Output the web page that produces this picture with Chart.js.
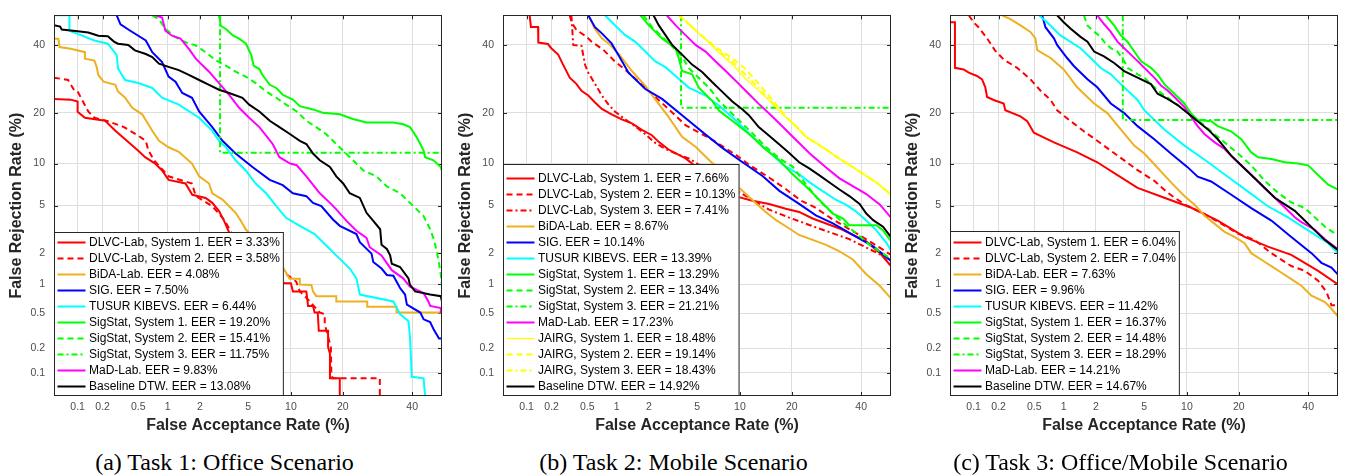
<!DOCTYPE html>
<html>
<head>
<meta charset="utf-8">
<script src="https://cdn.jsdelivr.net/npm/chart.js"></script>
<style>
  body { margin: 0; background: #fff; width: 1346px; height: 476px; position: relative; overflow: hidden; }
  .panel { position: absolute; top: 0; width: 449px; height: 476px; }
  .panel canvas { position: absolute; left: 0; top: 0; }
  .caption { position: absolute; left: 0; top: 448px; width: 449px; text-align: center;
             font: 24px 'Liberation Serif', 'Times New Roman', serif; line-height: 28px; color: #000; }
</style>
</head>
<body>
<div class="panel" style="left:0px"><canvas id="chartA" width="449" height="440"></canvas><div class="caption">(a) Task 1: Office Scenario</div></div>
<div class="panel" style="left:449px"><canvas id="chartB" width="449" height="440"></canvas><div class="caption">(b) Task 2: Mobile Scenario</div></div>
<div class="panel" style="left:896px"><canvas id="chartC" width="449" height="440"></canvas><div class="caption">(c) Task 3: Office/Mobile Scenario</div></div>
<script>
// axis ticks (percent)
const tickValues = [0.1, 0.2, 0.5, 1, 2, 5, 10, 20, 40];

// ---- Task 1: Office ----
const A_DLVC1_FAR = [0.05, 0.082, 0.10, 0.10, 0.123, 0.214, 0.28, 0.36, 0.50, 0.59, 0.75, 0.88, 1.02, 1.48, 1.71, 2.25, 2.57, 2.93, 3.23, 3.55, 9.07, 10.0, 10.3, 12.5, 12.8, 13.7, 14.0, 14.6, 14.8, 16.7, 16.7, 17.1, 17.1, 19.3, 19.3];
const A_DLVC1_FRR = [23.5, 23.3, 22.8, 20.2, 18.8, 18.1, 15.9, 14.2, 12.1, 11.0, 10.0, 9.0, 7.74, 7.3, 6.04, 5.72, 5.25, 4.53, 3.78, 3.03, 1.03, 1.03, 0.85, 0.85, 0.60, 0.60, 0.51, 0.51, 0.32, 0.32, 0.206, 0.172, 0.085, 0.085, 0.05];
const A_DLVC2_FAR = [0.05, 0.076, 0.091, 0.10, 0.135, 0.16, 0.23, 0.35, 0.50, 0.60, 0.64, 0.73, 1.02, 1.20, 1.70, 1.84, 2.57, 3.23, 3.69, 10.8, 11.4, 12.5, 13.1, 15.0, 16.0, 16.0, 17.3, 17.4, 17.7, 29.9, 29.9];
const A_DLVC2_FRR = [29.5, 28.8, 25.8, 25.5, 20.3, 18.8, 18.0, 16.7, 14.9, 13.9, 12.1, 10.5, 8.2, 7.9, 7.3, 5.9, 4.95, 3.87, 3.03, 1.07, 0.85, 0.73, 0.67, 0.51, 0.49, 0.38, 0.206, 0.098, 0.085, 0.085, 0.05];
const A_BIDA_FAR = [0.05, 0.057, 0.059, 0.082, 0.123, 0.123, 0.16, 0.17, 0.178, 0.205, 0.28, 0.30, 0.36, 0.43, 0.55, 0.70, 0.82, 1.02, 1.28, 1.70, 1.97, 2.41, 2.57, 3.13, 3.55, 4.0, 4.4, 4.8, 8.84, 9.8, 11.4, 11.4, 13.4, 13.7, 14.3, 18.5, 18.5, 26.3, 26.3, 35.0, 35.0, 50];
const A_BIDA_FRR = [42.0, 42.0, 39.2, 38.6, 37.5, 35.4, 34.8, 32.8, 30.3, 28.3, 27.4, 25.5, 23.8, 21.2, 19.6, 15.9, 13.9, 12.7, 11.9, 10.0, 8.2, 7.3, 6.2, 5.56, 4.95, 4.39, 3.78, 3.22, 1.48, 1.14, 1.14, 1.0, 0.99, 0.85, 0.76, 0.76, 0.67, 0.67, 0.59, 0.59, 0.51, 0.51];
const A_SIG_FAR = [0.29, 0.32, 0.41, 0.60, 0.70, 0.88, 1.02, 1.19, 1.38, 1.70, 1.97, 2.57, 3.13, 4.0, 5.4, 7.2, 8.84, 10.3, 12.5, 13.7, 15.3, 17.7, 19.3, 23.4, 24.3, 27.5, 28.0, 30.4, 32.0, 34.0, 36.1, 37.7, 38.3, 42.7, 43.8, 46.0, 47.2, 49.0, 50];
const A_SIG_FRR = [50, 46.9, 44.7, 41.4, 37.5, 34.3, 29.8, 28.3, 25.1, 23.8, 20.3, 16.7, 13.9, 11.6, 9.5, 7.74, 7.1, 6.2, 5.9, 5.25, 4.95, 3.9, 3.44, 2.93, 2.49, 1.97, 1.65, 1.43, 1.24, 1.22, 0.92, 0.79, 0.62, 0.51, 0.43, 0.40, 0.33, 0.26, 0.26];
const A_TUSUR_FAR = [0.05, 0.079, 0.079, 0.10, 0.16, 0.23, 0.29, 0.30, 0.36, 0.50, 0.70, 0.88, 1.28, 1.97, 2.57, 2.93, 3.34, 4.0, 4.8, 5.7, 6.8, 8.0, 9.3, 11.4, 14.0, 16.3, 18.5, 21.7, 23.4, 24.3, 34.0, 36.1, 38.8, 39.3, 39.9, 43.8, 44.3];
const A_TUSUR_FRR = [50, 50, 44.7, 43.6, 41.4, 40.3, 36.5, 32.3, 28.8, 27.9, 26.5, 23.8, 22.0, 18.8, 15.9, 13.9, 12.7, 10.5, 9.0, 7.3, 6.2, 4.95, 4.0, 3.44, 2.93, 2.33, 1.9, 1.43, 1.15, 0.79, 0.67, 0.49, 0.41, 0.27, 0.089, 0.085, 0.05];
const A_SS1_FAR = [2.93, 3.03, 3.34, 3.83, 4.27, 4.82, 5.3, 5.5, 6.07, 6.4, 7.2, 8.0, 8.84, 10.3, 11.4, 13.7, 15.6, 19.3, 22.5, 26.1, 34.0, 37.1, 39.3, 41.5, 42.7, 43.8, 44.3, 47.1, 49.6, 50];
const A_SS1_FRR = [50, 46.4, 45.3, 43.0, 42.0, 40.3, 36.5, 33.2, 32.1, 30.3, 27.4, 26.5, 24.6, 23.3, 21.6, 20.8, 20.0, 19.6, 18.5, 17.7, 17.7, 17.3, 16.7, 14.6, 13.3, 12.1, 11.0, 10.5, 9.5, 8.9];
const A_SS2_FAR = [0.70, 0.82, 0.95, 1.19, 1.48, 1.84, 2.25, 2.75, 3.34, 4.0, 4.8, 5.7, 6.8, 8.0, 9.3, 10.9, 12.5, 14.3, 16.3, 18.5, 20.1, 22.5, 25.2, 28.9, 32.0, 36.1, 39.3, 41.5, 43.8, 46.0, 47.2, 48.3, 48.9, 49.6, 50];
const A_SS2_FRR = [50, 48.6, 45.3, 42.5, 40.8, 39.7, 37.5, 34.9, 33.2, 31.3, 29.8, 27.9, 25.5, 23.8, 22.0, 20.3, 18.1, 16.7, 15.2, 13.3, 12.1, 10.5, 9.0, 8.2, 6.96, 6.2, 5.25, 4.67, 4.14, 3.22, 2.66, 2.03, 1.65, 1.24, 0.95];
const A_SS3_FAR = [2.99, 2.99, 50];
const A_SS3_FRR = [50, 11.75, 11.75];
const A_MAD_FAR = [0.75, 0.88, 0.95, 1.10, 1.33, 1.59, 1.84, 2.41, 2.93, 3.55, 4.27, 5.1, 6.07, 7.55, 8.4, 9.9, 10.9, 12.5, 15.0, 17.1, 18.5, 20.9, 23.4, 26.1, 27.0, 30.4, 33.5, 37.1, 39.3, 43.8, 45.4, 46.0, 49.6, 49.6, 50];
const A_MAD_FRR = [50, 49.2, 44.7, 43.0, 42.0, 38.6, 35.4, 31.3, 27.9, 24.6, 21.2, 18.8, 16.7, 13.3, 11.0, 10.0, 9.75, 8.2, 6.2, 5.25, 4.67, 3.78, 3.13, 2.72, 2.25, 1.9, 1.38, 1.15, 0.95, 0.82, 0.67, 0.60, 0.57, 0.51, 0.51];
const A_BASE_FAR = [0.05, 0.06, 0.063, 0.082, 0.10, 0.135, 0.178, 0.23, 0.27, 0.30, 0.39, 0.46, 0.60, 0.70, 0.82, 1.02, 1.28, 1.59, 1.97, 2.41, 2.93, 3.55, 4.53, 5.1, 6.07, 7.2, 8.4, 9.9, 11.4, 12.5, 13.7, 15.0, 17.1, 18.5, 20.1, 21.7, 24.3, 26.1, 28.0, 30.0, 30.4, 32.0, 33.0, 33.5, 36.1, 38.8, 39.3, 41.0, 46.0, 49.6, 50];
const A_BASE_FRR = [46.6, 46.1, 45.1, 44.8, 44.5, 44.1, 43.0, 42.8, 41.0, 40.3, 39.9, 38.1, 36.9, 35.9, 33.8, 32.8, 31.8, 30.3, 28.8, 27.4, 26.0, 25.1, 23.8, 22.0, 20.3, 18.1, 16.7, 15.2, 13.9, 13.3, 11.6, 10.5, 9.5, 8.2, 7.3, 6.2, 5.72, 4.39, 3.78, 3.22, 2.37, 2.17, 1.9, 1.59, 1.48, 1.15, 0.99, 0.85, 0.79, 0.76, 0.67];

// ---- Task 2: Mobile ----
const B_DLVC1_FAR = [0.109, 0.113, 0.138, 0.139, 0.181, 0.198, 0.238, 0.271, 0.322, 0.383, 0.433, 0.513, 0.60, 0.71, 0.89, 1.12, 1.40, 1.73, 2.13, 2.44, 2.96, 4.07, 4.87, 5.46, 6.85, 8.48, 9.87, 11.98, 15.07, 18.6, 21.8, 25.3, 29.1, 33.1, 37.3, 41.7, 46.2, 50];
const B_DLVC1_FRR = [50, 46.0, 46.0, 40.7, 40.2, 38.8, 36.7, 33.5, 29.5, 27.6, 25.7, 24.4, 22.6, 20.9, 19.6, 18.4, 17.5, 16.1, 15.0, 13.7, 12.3, 10.8, 9.6, 8.7, 7.6, 6.4, 5.8, 5.44, 5.15, 4.73, 4.46, 3.95, 3.6, 3.27, 2.88, 2.53, 2.0, 1.51];
const B_DLVC2_FAR = [0.322, 0.336, 0.383, 0.49, 0.555, 0.734, 0.96, 1.25, 1.99, 2.96, 4.07, 5.31, 6.85, 9.4, 11.4, 15.07, 18.6, 22.2, 25.8, 31.1, 38.4, 42.9, 50];
const B_DLVC2_FRR = [50, 47.7, 44.9, 42.7, 41.0, 38.3, 34.5, 31.5, 25.7, 20.9, 17.1, 15.4, 13.7, 11.4, 9.85, 8.04, 6.66, 5.47, 4.87, 3.88, 2.98, 2.53, 1.92];
const B_DLVC3_FAR = [0.336, 0.352, 0.433, 0.476, 0.513, 0.60, 0.71, 0.83, 0.96, 1.21, 1.50, 1.86, 2.28, 2.79, 3.59, 4.32, 5.16, 6.13, 8.05, 9.87, 12.5, 15.07, 19.4, 26.2, 36.2, 47.3, 50];
const B_DLVC3_FRR = [50, 39.9, 39.6, 33.2, 31.0, 27.8, 24.4, 22.0, 20.3, 18.4, 16.9, 15.2, 13.5, 12.4, 11.4, 10.8, 9.85, 8.7, 7.22, 6.34, 5.35, 4.65, 4.02, 3.34, 2.65, 1.88, 1.52];
const B_BIDA_FAR = [0.513, 0.60, 0.71, 0.83, 1.06, 1.40, 1.86, 2.44, 2.96, 3.82, 4.87, 6.46, 8.05, 9.6, 12.5, 14.4, 16.5, 19.4, 21.8, 25.3, 29.1, 33.1, 37.3, 41.7, 46.2, 50];
const B_BIDA_FRR = [50, 45.4, 42.1, 40.4, 36.7, 31.5, 27.1, 22.2, 19.0, 14.7, 12.8, 10.1, 8.87, 7.02, 5.25, 4.46, 3.83, 3.27, 2.88, 2.61, 2.36, 2.07, 1.74, 1.26, 0.97, 0.72];
const B_SIG_FAR = [0.513, 0.60, 0.71, 0.89, 1.06, 1.30, 1.86, 2.61, 3.82, 5.46, 7.63, 10.4, 13.8, 17.2, 21.8, 26.2, 31.1, 37.3, 44.0, 50];
const B_SIG_FRR = [50, 46.0, 43.8, 40.4, 36.1, 31.0, 26.2, 23.5, 19.4, 15.7, 12.6, 10.2, 8.24, 6.46, 5.15, 4.19, 3.6, 2.88, 2.29, 1.69];
const B_TUSUR_FAR = [0.765, 0.96, 1.21, 1.50, 1.86, 2.28, 2.79, 3.38, 4.32, 5.79, 7.22, 8.92, 10.4, 11.98, 13.8, 15.75, 17.9, 21.8, 24.4, 28.1, 32.1, 35.2, 38.4, 41.7, 45.1, 48.5, 50];
const B_TUSUR_FRR = [50, 46.6, 43.2, 41.0, 37.7, 34.5, 32.7, 30.0, 26.6, 24.4, 21.8, 18.9, 16.7, 14.7, 12.8, 11.4, 9.85, 8.46, 7.47, 6.43, 5.52, 5.07, 4.49, 3.8, 3.15, 2.45, 2.12];
const B_SS1_FAR = [1.68, 1.99, 2.61, 3.38, 3.59, 3.82, 4.58, 5.16, 6.46, 7.22, 9.4, 11.98, 14.4, 17.2, 20.2, 23.5, 27.2, 31.1, 34.2, 36.2, 45.1, 47.3, 50];
const B_SS1_FRR = [50, 46.6, 42.1, 38.8, 35.6, 31.5, 30.5, 26.6, 23.0, 20.5, 17.5, 14.7, 12.3, 10.5, 8.46, 6.98, 5.52, 4.33, 3.95, 3.48, 3.48, 3.15, 2.55];
const B_SS2_FAR = [1.79, 2.13, 2.61, 3.17, 3.82, 4.32, 5.16, 6.13, 7.22, 9.4, 11.98, 14.4, 17.2, 20.2, 23.5, 27.2, 31.1, 35.2, 38.4, 42.9, 48.5, 50];
const B_SS2_FRR = [50, 46.0, 42.7, 39.4, 36.1, 32.4, 29.4, 26.6, 23.0, 18.9, 15.4, 12.8, 10.8, 9.55, 7.22, 5.44, 4.33, 3.47, 2.98, 2.35, 1.88, 1.76];
const B_SS3_FAR = [3.75, 3.75, 50];
const B_SS3_FRR = [50, 21.21, 21.21];
const B_MAD_FAR = [2.86, 3.38, 4.07, 4.87, 5.79, 6.85, 8.05, 9.87, 11.4, 13.1, 15.07, 17.2, 19.4, 21.8, 24.4, 29.1, 33.1, 37.3, 41.7, 46.2, 50];
const B_MAD_FRR = [50, 46.6, 43.2, 39.9, 37.7, 34.5, 31.5, 27.6, 24.8, 22.2, 19.8, 17.5, 15.4, 13.5, 11.7, 9.43, 7.94, 6.98, 6.12, 5.11, 4.01];
const B_JAIRG_FAR = [3.59, 4.32, 5.16, 6.13, 7.22, 8.92, 10.9, 12.5, 14.4, 16.5, 18.6, 21.2, 23.5, 26.2, 29.1, 32.1, 35.2, 38.4, 41.7, 45.1, 48.5, 50];
const B_JAIRG1_FRR = [50, 47.0, 43.8, 40.7, 37.4, 33.6, 29.1, 26.6, 23.9, 21.3, 18.9, 16.7, 14.7, 13.5, 12.3, 11.1, 10.1, 9.15, 8.24, 7.42, 6.46, 5.95];
const B_JAIRG2_FRR = [50, 47.0, 43.8, 41.0, 38.4, 35.5, 32.1, 28.8, 25.4, 22.0, 19.1, 16.7, 14.7, 13.5, 12.3, 11.1, 10.1, 9.15, 8.24, 7.42, 6.46, 5.95];
const B_JAIRG3_FRR = [50, 47.0, 43.8, 40.9, 37.7, 34.5, 30.3, 27.4, 24.4, 21.5, 19.1, 16.7, 14.7, 13.5, 12.3, 11.1, 10.1, 9.15, 8.24, 7.42, 6.46, 5.95];
const B_BASE_FAR = [2.2, 2.44, 2.79, 3.17, 3.82, 4.58, 5.46, 6.46, 7.63, 8.92, 10.4, 11.4, 13.1, 15.07, 17.2, 19.4, 21.8, 24.4, 27.2, 30.1, 33.1, 36.2, 39.5, 41.7, 44.0, 47.3, 50];
const B_BASE_FRR = [50, 46.6, 43.2, 39.9, 36.7, 33.5, 31.2, 28.2, 25.4, 22.8, 20.8, 19.4, 16.7, 14.9, 13.2, 11.7, 10.2, 9.28, 8.33, 7.42, 6.61, 5.91, 5.15, 4.33, 3.83, 3.38, 2.76];

// ---- Task 3: Office/Mobile ----
const C_DLVC1_FAR = [0.05, 0.05, 0.058, 0.058, 0.075, 0.087, 0.11, 0.127, 0.139, 0.146, 0.175, 0.229, 0.239, 0.354, 0.42, 0.495, 0.80, 1.35, 2.06, 3.07, 4.46, 7.04, 10.6, 15.4, 21.4, 27.6, 34.6, 43.3, 50];
const C_DLVC1_FRR = [50, 47.6, 47.6, 32.5, 32.0, 31.0, 30.0, 29.0, 26.7, 24.0, 23.2, 22.3, 20.6, 19.1, 18.0, 15.5, 13.6, 11.8, 10.2, 8.36, 6.78, 5.74, 4.83, 3.8, 2.77, 2.28, 1.92, 1.36, 1.0];
const C_DLVC2_FAR = [0.087, 0.10, 0.115, 0.146, 0.181, 0.229, 0.325, 0.455, 0.58, 0.74, 0.86, 1.17, 1.56, 2.06, 2.7, 3.49, 4.46, 5.96, 7.42, 9.63, 12.9, 16.8, 19.8, 24.0, 28.6, 34.6, 38.9, 43.3, 46.1, 47.8, 50];
const C_DLVC2_FRR = [50, 47.6, 45.9, 42.1, 38.1, 35.1, 32.5, 29.0, 25.8, 23.2, 20.6, 18.0, 15.8, 13.9, 12.1, 10.5, 9.03, 7.62, 6.26, 5.11, 4.29, 3.46, 2.96, 2.6, 1.99, 1.51, 1.36, 1.09, 0.84, 0.61, 0.61];
const C_BIDA_FAR = [0.219, 0.273, 0.354, 0.455, 0.514, 0.537, 0.74, 1.0, 1.35, 1.93, 2.52, 3.27, 4.2, 5.02, 5.96, 7.04, 8.26, 9.63, 11.2, 12.9, 14.8, 16.8, 19.0, 21.4, 23.1, 25.8, 28.6, 31.5, 34.6, 37.8, 41.1, 45.6, 47.8, 50];
const C_BIDA_FRR = [50, 48.7, 46.5, 44.3, 42.1, 38.2, 35.6, 32.0, 26.7, 22.3, 19.9, 16.2, 13.0, 11.6, 9.9, 8.36, 7.02, 5.91, 5.07, 4.16, 3.57, 3.06, 2.77, 2.44, 1.99, 1.73, 1.51, 1.31, 1.13, 0.97, 0.77, 0.66, 0.56, 0.46];
const C_SIG_FAR = [0.605, 0.655, 0.80, 0.86, 1.08, 1.26, 1.68, 2.06, 2.7, 3.49, 4.46, 5.96, 7.82, 10.1, 11.7, 14.1, 18.2, 23.1, 28.6, 34.6, 41.1, 44.4, 47.8, 50];
const C_SIG_FRR = [50, 45.9, 42.1, 39.9, 35.6, 33.0, 29.0, 26.7, 22.3, 19.9, 16.9, 14.2, 11.6, 9.47, 8.15, 7.54, 6.07, 4.78, 3.8, 2.77, 1.99, 1.62, 1.46, 1.25];
const C_TUSUR_FAR = [0.56, 0.68, 0.93, 1.45, 1.8, 2.2, 2.7, 3.27, 4.46, 5.02, 7.04, 9.63, 12.9, 17.5, 22.2, 27.6, 33.6, 40.0, 46.7, 50];
const C_TUSUR_FRR = [50, 47.6, 43.1, 38.8, 35.6, 32.5, 30.5, 27.6, 23.2, 20.6, 16.2, 13.0, 10.6, 8.15, 6.4, 4.94, 4.04, 3.15, 2.44, 1.99];
const C_SS1_FAR = [2.44, 2.88, 3.27, 3.71, 4.2, 4.73, 5.63, 6.3, 7.04, 8.26, 9.63, 10.6, 11.7, 14.1, 15.4, 18.2, 20.6, 23.1, 24.9, 28.6, 32.6, 36.7, 40.0, 42.2, 44.4, 46.7, 50];
const C_SS1_FRR = [50, 46.5, 43.1, 41.0, 37.7, 34.6, 32.5, 30.5, 27.6, 24.9, 22.3, 19.9, 18.3, 18.0, 16.9, 15.8, 14.2, 11.8, 11.0, 10.7, 10.2, 10.0, 9.73, 8.8, 7.94, 7.15, 6.6];
const C_SS2_FAR = [1.56, 1.68, 1.93, 2.14, 2.36, 2.7, 3.07, 3.49, 3.71, 4.46, 5.02, 5.63, 6.3, 7.82, 9.63, 11.7, 14.1, 16.8, 19.8, 23.1, 26.7, 30.5, 34.6, 38.9, 42.2, 45.6, 50];
const C_SS2_FRR = [50, 46.5, 44.3, 43.1, 41.0, 38.8, 37.7, 34.6, 32.5, 30.5, 29.5, 27.6, 25.8, 23.2, 20.6, 18.3, 15.8, 13.6, 11.6, 9.73, 7.62, 6.26, 5.29, 4.78, 4.04, 3.38, 2.85];
const C_SS3_FAR = [3.4, 3.4, 50];
const C_SS3_FRR = [50, 18.29, 18.29];
const C_MAD_FAR = [2.06, 2.36, 2.7, 3.07, 3.49, 3.95, 4.46, 5.02, 5.96, 6.67, 7.42, 8.26, 9.63, 10.6, 11.7, 12.9, 14.8, 16.8, 19.0, 21.4, 24.0, 26.7, 29.6, 32.6, 35.7, 37.8, 42.2, 45.6, 50];
const C_MAD_FRR = [50, 47.0, 44.3, 41.0, 38.8, 36.7, 34.6, 32.5, 29.5, 27.2, 25.8, 24.0, 21.4, 19.1, 16.9, 15.2, 13.6, 12.4, 10.7, 9.28, 7.94, 6.78, 5.74, 4.83, 4.04, 3.69, 3.19, 2.64, 2.16];
const C_BASE_FAR = [0.86, 1.0, 1.17, 1.45, 1.68, 1.93, 2.36, 2.88, 3.49, 4.46, 5.63, 6.3, 7.42, 8.69, 10.1, 11.7, 13.5, 15.4, 18.2, 21.4, 24.0, 26.7, 29.6, 32.6, 35.7, 38.9, 42.2, 45.6, 50];
const C_BASE_FRR = [50, 47.6, 45.4, 42.6, 41.0, 37.7, 36.1, 34.0, 31.5, 29.5, 27.6, 24.9, 23.5, 21.9, 19.9, 18.0, 16.2, 14.2, 11.3, 9.28, 7.94, 6.78, 5.74, 5.11, 4.55, 3.8, 3.15, 2.6, 2.12];

// line styles
const RED = '#FF0000', ORANGE = '#EDB120', BLUE = '#0000FF', CYAN = '#00FFFF',
      GREEN = '#00FF00', MAGENTA = '#FF00FF', YELLOW = '#FFFF00', BLACK = '#000000';
const SOLID = [], DASH = [6, 4], DASHDOT = [6, 3, 2, 3];
const FONT = "'Liberation Sans', Arial, sans-serif";

// inverse normal CDF (Acklam)
function probit(p) {
  const a = [-39.69683028665376, 220.9460984245205, -275.9285104469687, 138.3577518672690, -30.66479806614716, 2.506628277459239];
  const b = [-54.47609879822406, 161.5858368580409, -155.6989798598866, 66.80131188771972, -13.28068155288572];
  const c = [-0.007784894002430293, -0.3223964580411365, -2.400758277161838, -2.549732539343734, 4.374664141464968, 2.938163982698783];
  const d = [0.007784695709041462, 0.3224671290700398, 2.445134137142996, 3.754408661907416];
  const pl = 0.02425;
  let q, r;
  if (p < pl) {
    q = Math.sqrt(-2 * Math.log(p));
    return (((((c[0]*q+c[1])*q+c[2])*q+c[3])*q+c[4])*q+c[5]) / ((((d[0]*q+d[1])*q+d[2])*q+d[3])*q+1);
  }
  if (p <= 1 - pl) {
    q = p - 0.5; r = q * q;
    return (((((a[0]*r+a[1])*r+a[2])*r+a[3])*r+a[4])*r+a[5])*q / (((((b[0]*r+b[1])*r+b[2])*r+b[3])*r+b[4])*r+1);
  }
  q = Math.sqrt(-2 * Math.log(1 - p));
  return -(((((c[0]*q+c[1])*q+c[2])*q+c[3])*q+c[4])*q+c[5]) / ((((d[0]*q+d[1])*q+d[2])*q+d[3])*q+1);
}
function normcdf(z) {
  const t = 1 / (1 + 0.3275911 * Math.abs(z) / Math.SQRT2);
  const e = 1 - (((((1.061405429*t - 1.453152027)*t) + 1.421413741)*t - 0.284496736)*t + 0.254829592)*t*Math.exp(-z*z/2);
  return z >= 0 ? 0.5 * (1 + e) : 0.5 * (1 - e);
}

// DET (normal deviate) axis
class ProbitScale extends Chart.Scale {
  determineDataLimits() {
    this.min = this.options.min;
    this.max = this.options.max;
  }
  buildTicks() {
    return tickValues.map(v => ({ value: v }));
  }
  getLabelForValue(v) { return String(v); }
  getPixelForValue(v) {
    const z0 = probit(this.min / 100), z1 = probit(this.max / 100);
    return this.getPixelForDecimal((probit(v / 100) - z0) / (z1 - z0));
  }
  getValueForPixel(px) {
    const z0 = probit(this.min / 100), z1 = probit(this.max / 100);
    return 100 * normcdf(z0 + this.getDecimalForPixel(px) * (z1 - z0));
  }
}
ProbitScale.id = 'probit';
ProbitScale.defaults = {};
Chart.register(ProbitScale);

function curve(label, far, frr, color, dash, width) {
  return {
    label,
    data: far.map((x, i) => ({ x, y: frr[i] })),
    borderColor: color,
    borderDash: dash,
    borderWidth: width || 2,
    pointRadius: 0,
    tension: 0,
    fill: false
  };
}

// ticks inside the box, under the curves
const innerTicks = {
  id: 'innerTicks',
  beforeDatasetsDraw(chart) {
    const { ctx, chartArea: a, scales } = chart;
    ctx.save();
    ctx.strokeStyle = '#262626';
    ctx.lineWidth = 1;
    ctx.beginPath();
    tickValues.forEach(v => {
      const x = Math.round(scales.x.getPixelForValue(v)) + 0.5;
      ctx.moveTo(x, a.bottom); ctx.lineTo(x, a.bottom - 4);
      ctx.moveTo(x, a.top); ctx.lineTo(x, a.top + 4);
      const y = Math.round(scales.y.getPixelForValue(v)) + 0.5;
      ctx.moveTo(a.left, y); ctx.lineTo(a.left + 4, y);
      ctx.moveTo(a.right, y); ctx.lineTo(a.right - 4, y);
    });
    ctx.stroke();
    ctx.restore();
  }
};

// legend box in the lower left corner of the plot
const boxLegend = {
  id: 'boxLegend',
  afterDatasetsDraw(chart, args, opts) {
    const { ctx, chartArea } = chart;
    const sets = chart.data.datasets;
    ctx.save();
    ctx.font = '12px ' + FONT;
    const textW = Math.max(...sets.map(d => ctx.measureText(d.label).width));
    const left = chartArea.left, bottom = chartArea.bottom;
    const right = left + 35 + textW + 4;
    const top = opts.top;
    ctx.fillStyle = '#fff';
    ctx.fillRect(left, top, right - left, bottom - top);
    ctx.strokeStyle = '#262626';
    ctx.lineWidth = 1;
    ctx.strokeRect(left + 0.5, top + 0.5, right - left - 1, bottom - top - 1);
    sets.forEach((d, i) => {
      const y = bottom - 9.5 - (sets.length - 1 - i) * 16;
      ctx.beginPath();
      ctx.setLineDash(d.borderDash);
      ctx.strokeStyle = d.borderColor;
      ctx.lineWidth = d.borderWidth;
      ctx.moveTo(left + 3.5, y);
      ctx.lineTo(left + 31.5, y);
      ctx.stroke();
      ctx.setLineDash([]);
      ctx.fillStyle = '#000';
      ctx.textBaseline = 'middle';
      ctx.fillText(d.label, left + 35, y + 0.5);
    });
    ctx.restore();
  }
};

const frame = {
  id: 'frame',
  afterDraw(chart) {
    const { ctx, chartArea: a } = chart;
    ctx.save();
    ctx.strokeStyle = '#262626';
    ctx.lineWidth = 1;
    ctx.strokeRect(Math.round(a.left) + 0.5, Math.round(a.top) + 0.5, Math.round(a.width) - 1, Math.round(a.height) - 1);
    ctx.restore();
  }
};

function detChart(id, datasets, legendTop, padTop) {
  datasets.forEach((d, i) => { d.order = -i; });
  const axis = (title, isY) => ({
    type: 'probit',
    min: 0.05,
    max: 50,
    grid: { color: '#dedede', drawTicks: false },
    border: { display: false },
    ticks: {
      padding: isY ? 9 : 5,
      color: '#4d4d4d',
      font: { size: 10.5, family: FONT },
      autoSkip: false,
      maxRotation: 0,
      callback: v => String(v)
    },
    title: {
      display: true,
      text: title,
      color: '#262626',
      font: { size: 16, weight: 'bold', family: FONT },
      padding: isY ? { top: 7, bottom: 0 } : { top: 0, bottom: 5 }
    },
    afterFit: s => { if (isY) s.width = 54; else s.height = 44; }
  });
  return new Chart(document.getElementById(id), {
    type: 'line',
    data: { datasets },
    options: {
      responsive: false,
      devicePixelRatio: 1,
      animation: false,
      layout: { padding: { top: padTop, right: 7, left: 0, bottom: 0 } },
      scales: {
        x: axis('False Acceptance Rate (%)', false),
        y: axis('False Rejection Rate (%)', true)
      },
      plugins: {
        legend: { display: false },
        tooltip: { enabled: false },
        boxLegend: { top: legendTop }
      }
    },
    plugins: [innerTicks, boxLegend, frame]
  });
}

Chart.defaults.font.family = FONT;

detChart('chartA', [
  curve('DLVC-Lab, System 1. EER = 3.33%', A_DLVC1_FAR, A_DLVC1_FRR, RED, SOLID),
  curve('DLVC-Lab, System 2. EER = 3.58%', A_DLVC2_FAR, A_DLVC2_FRR, RED, DASH),
  curve('BiDA-Lab. EER = 4.08%', A_BIDA_FAR, A_BIDA_FRR, ORANGE, SOLID),
  curve('SIG. EER = 7.50%', A_SIG_FAR, A_SIG_FRR, BLUE, SOLID),
  curve('TUSUR KIBEVS. EER = 6.44%', A_TUSUR_FAR, A_TUSUR_FRR, CYAN, SOLID),
  curve('SigStat, System 1. EER = 19.20%', A_SS1_FAR, A_SS1_FRR, GREEN, SOLID),
  curve('SigStat, System 2. EER = 15.41%', A_SS2_FAR, A_SS2_FRR, GREEN, DASH),
  curve('SigStat, System 3. EER = 11.75%', A_SS3_FAR, A_SS3_FRR, GREEN, DASHDOT),
  curve('MaD-Lab. EER = 9.83%', A_MAD_FAR, A_MAD_FRR, MAGENTA, SOLID),
  curve('Baseline DTW. EER = 13.08%', A_BASE_FAR, A_BASE_FRR, BLACK, SOLID)
], 232, 8);

detChart('chartB', [
  curve('DLVC-Lab, System 1. EER = 7.66%', B_DLVC1_FAR, B_DLVC1_FRR, RED, SOLID),
  curve('DLVC-Lab, System 2. EER = 10.13%', B_DLVC2_FAR, B_DLVC2_FRR, RED, DASH),
  curve('DLVC-Lab, System 3. EER = 7.41%', B_DLVC3_FAR, B_DLVC3_FRR, RED, DASHDOT),
  curve('BiDA-Lab. EER = 8.67%', B_BIDA_FAR, B_BIDA_FRR, ORANGE, SOLID),
  curve('SIG. EER = 10.14%', B_SIG_FAR, B_SIG_FRR, BLUE, SOLID),
  curve('TUSUR KIBEVS. EER = 13.39%', B_TUSUR_FAR, B_TUSUR_FRR, CYAN, SOLID),
  curve('SigStat, System 1. EER = 13.29%', B_SS1_FAR, B_SS1_FRR, GREEN, SOLID),
  curve('SigStat, System 2. EER = 13.34%', B_SS2_FAR, B_SS2_FRR, GREEN, DASH),
  curve('SigStat, System 3. EER = 21.21%', B_SS3_FAR, B_SS3_FRR, GREEN, DASHDOT),
  curve('MaD-Lab. EER = 17.23%', B_MAD_FAR, B_MAD_FRR, MAGENTA, SOLID),
  curve('JAIRG, System 1. EER = 18.48%', B_JAIRG_FAR, B_JAIRG1_FRR, YELLOW, SOLID, 1.3),
  curve('JAIRG, System 2. EER = 19.14%', B_JAIRG_FAR, B_JAIRG2_FRR, YELLOW, DASH),
  curve('JAIRG, System 3. EER = 18.43%', B_JAIRG_FAR, B_JAIRG3_FRR, YELLOW, DASHDOT),
  curve('Baseline DTW. EER = 14.92%', B_BASE_FAR, B_BASE_FRR, BLACK, SOLID)
], 164, 8);

detChart('chartC', [
  curve('DLVC-Lab, System 1. EER = 6.04%', C_DLVC1_FAR, C_DLVC1_FRR, RED, SOLID),
  curve('DLVC-Lab, System 2. EER = 7.04%', C_DLVC2_FAR, C_DLVC2_FRR, RED, DASH),
  curve('BiDA-Lab. EER = 7.63%', C_BIDA_FAR, C_BIDA_FRR, ORANGE, SOLID),
  curve('SIG. EER = 9.96%', C_SIG_FAR, C_SIG_FRR, BLUE, SOLID),
  curve('TUSUR KIBEVS. EER = 11.42%', C_TUSUR_FAR, C_TUSUR_FRR, CYAN, SOLID),
  curve('SigStat, System 1. EER = 16.37%', C_SS1_FAR, C_SS1_FRR, GREEN, SOLID),
  curve('SigStat, System 2. EER = 14.48%', C_SS2_FAR, C_SS2_FRR, GREEN, DASH),
  curve('SigStat, System 3. EER = 18.29%', C_SS3_FAR, C_SS3_FRR, GREEN, DASHDOT),
  curve('MaD-Lab. EER = 14.21%', C_MAD_FAR, C_MAD_FRR, MAGENTA, SOLID),
  curve('Baseline DTW. EER = 14.67%', C_BASE_FAR, C_BASE_FRR, BLACK, SOLID)
], 231, 6);
</script>
</body>
</html>
